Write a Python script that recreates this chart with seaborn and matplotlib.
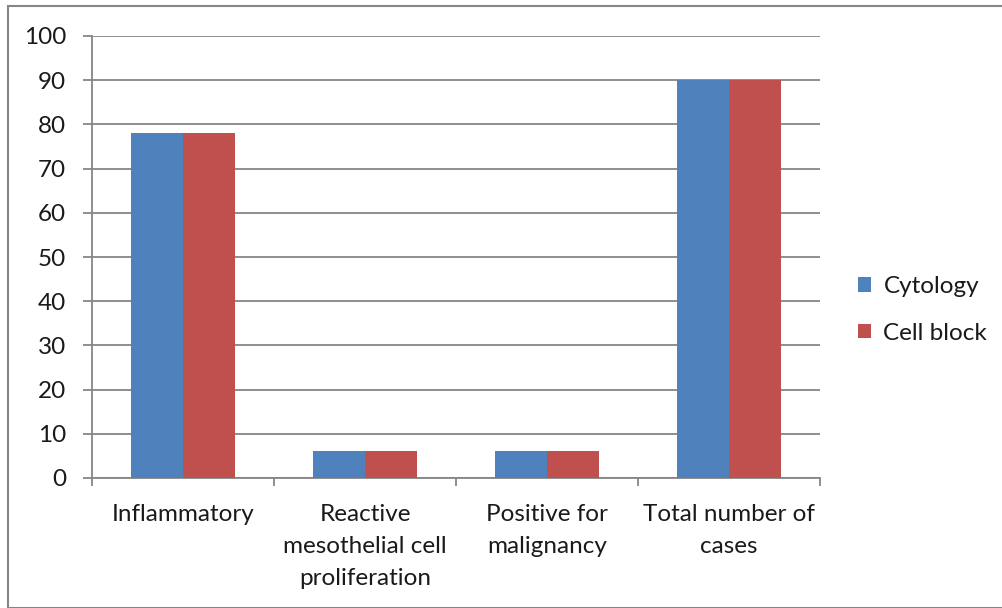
import matplotlib
matplotlib.use("Agg")
import matplotlib.pyplot as plt
from matplotlib.patches import Rectangle
from matplotlib.ticker import FixedLocator, MultipleLocator
import seaborn as sns
import pandas as pd

categories = ["Inflammatory", "Reactive\nmesothelial cell\nproliferation",
              "Positive for\nmalignancy", "Total number of\ncases"]
cytology = [78, 6, 6, 90]
cell_block = [78, 6, 6, 90]
series_names = ["Cytology", "Cell block"]
series_colors = ["#4F81BD", "#C0504D"]

df = pd.DataFrame({
    "category": categories * 2,
    "value": cytology + cell_block,
    "series": [series_names[0]] * len(categories) + [series_names[1]] * len(categories),
})

sns.set_theme(style="white")
plt.rcParams["font.family"] = ["Lato", "DejaVu Sans"]

W, H = 1002, 608
fig = plt.figure(figsize=(W / 100, H / 100), dpi=100)
ax = fig.add_axes([92 / W, 1 - 478 / H, (820 - 92) / W, (478 - 36) / H])

grid_color = "#868686"
text_color = "#1a1a1a"
fs = 17.5

sns.barplot(data=df, x="category", y="value", hue="series", order=categories,
            hue_order=series_names, palette=series_colors, width=0.57,
            saturation=1, gap=0, linewidth=0, ax=ax, legend=True, zorder=3)

ax.set_ylim(0, 100)
ax.set_xlim(-0.5, len(categories) - 0.5)
ax.yaxis.set_major_locator(MultipleLocator(10))
ax.yaxis.grid(True, color=grid_color, linewidth=1.3, zorder=0)
ax.set_axisbelow(True)
ax.set_xlabel("")
ax.set_ylabel("")

for side in ["top", "right"]:
    ax.spines[side].set_visible(False)
for side in ["left", "bottom"]:
    ax.spines[side].set_color(grid_color)
    ax.spines[side].set_linewidth(1.3)

ax.tick_params(axis="y", which="major", direction="out", length=6.5, width=1.3,
               color=grid_color, labelsize=fs, labelcolor=text_color, pad=12, left=True)
ax.tick_params(axis="x", which="major", length=0, labelsize=fs,
               labelcolor=text_color, pad=19)
ax.xaxis.set_minor_locator(FixedLocator([i - 0.5 for i in range(len(categories) + 1)]))
ax.tick_params(axis="x", which="minor", direction="out", length=6, width=1.3,
               color=grid_color, bottom=True)
for lbl in ax.get_xticklabels():
    lbl.set_linespacing(1.65)
    lbl.set_verticalalignment("top")

handles, labels = ax.get_legend_handles_labels()
leg = ax.legend(handles, labels, loc="center left", bbox_to_anchor=(836 / W, 1 - 310 / H),
                bbox_transform=fig.transFigure, frameon=False, fontsize=fs,
                handlelength=0.55, handleheight=0.55, handletextpad=0.5,
                labelspacing=1.05)
for t in leg.get_texts():
    t.set_color(text_color)

# outer chart-area border
fig.patches.append(Rectangle((8 / W, 0), 1, 1 - 6 / H, transform=fig.transFigure,
                             fill=False, edgecolor=grid_color, linewidth=1.5,
                             zorder=10))

fig.savefig("out.png", dpi=100, facecolor="white")
